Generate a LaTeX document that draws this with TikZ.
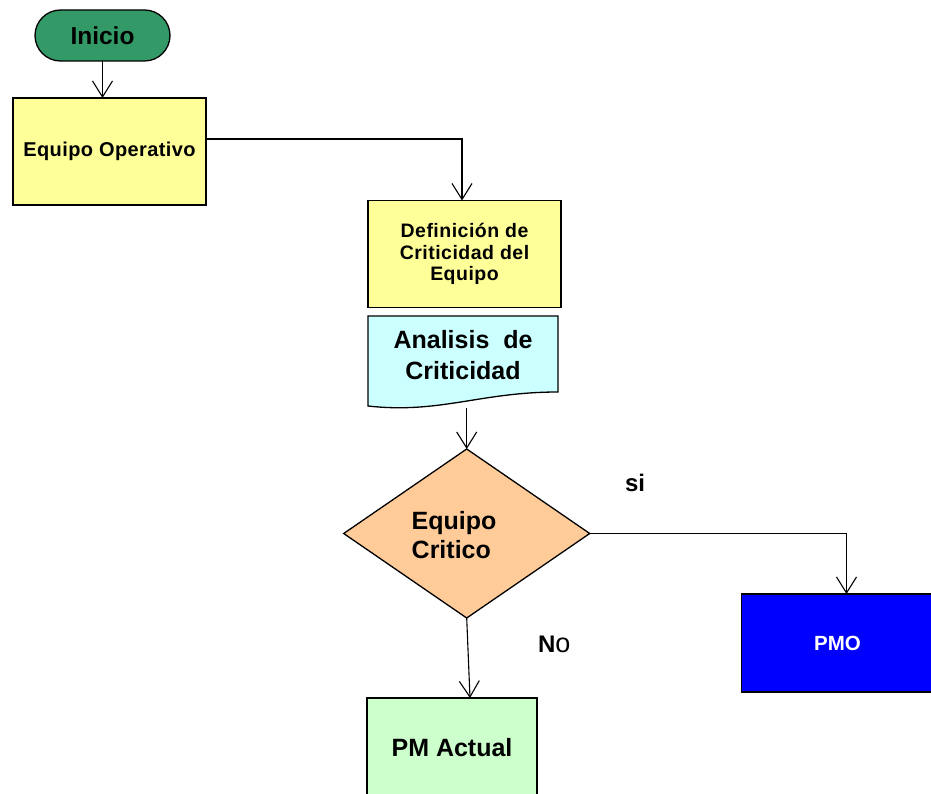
\documentclass[tikz,border=0pt]{standalone}
\usepackage{fontspec}
\setmainfont{Liberation Sans}
\usetikzlibrary{arrows.meta,shapes.geometric,calc}
\definecolor{cInicio}{RGB}{51,153,102}
\definecolor{cYellow}{RGB}{255,255,153}
\definecolor{cCyan}{RGB}{204,255,255}
\definecolor{cPeach}{RGB}{255,204,153}
\definecolor{cBlue}{RGB}{0,0,255}
\definecolor{cLGreen}{RGB}{204,255,204}
\begin{document}
\begin{tikzpicture}[x=1pt,y=-1pt,
  box/.style={draw=black, line width=1.3pt, rectangle, inner sep=0pt, outer sep=0pt, align=center, font=\bfseries},
  arr/.style={draw=black, line width=1.1pt, -{Straight Barb[length=16pt,width=20pt,line width=1.1pt]}},
  conn/.style={draw=black, line width=1.1pt},
  lbl/.style={inner sep=0pt, outer sep=0pt, font=\bfseries}]
\useasboundingbox (0,0) rectangle (931,794);

% Inicio
\node[box, fill=cInicio, rounded corners=25.5pt, minimum width=135pt, minimum height=51pt,
  font=\bfseries\fontsize{24.5}{29}\selectfont] (inicio) at (102.5,35.5) {Inicio};

% Equipo Operativo
\node[box, fill=cYellow, minimum width=193pt, minimum height=107pt,
  font=\bfseries\fontsize{20}{23}\selectfont\addfontfeature{LetterSpace=2}] (eo) at (109.5,151.5) {Equipo\ Operativo};

% Definicion
\node[box, fill=cYellow, minimum width=193pt, minimum height=107pt,
  font=\bfseries\fontsize{19.5}{21.5}\selectfont\addfontfeature{LetterSpace=2.5}] (def) at (464.5,254) {Definición de\\Criticidad del\\Equipo};

% Analisis (document shape)
\draw[fill=cCyan, line width=1.3pt] (368,316) -- (558,316) -- (558,392)
  .. controls (480,392) and (440,414) .. (368,406) -- cycle;
\node[inner sep=0pt, outer sep=0pt, minimum width=190pt, minimum height=92pt] (ana) at (463,362) {};
\node[lbl, align=center, font=\bfseries\fontsize{25}{31}\selectfont] (anat) at (463,355) {Analisis\ \ de\\Criticidad};

% Decision
\node[diamond, draw=black, line width=1.3pt, fill=cPeach, inner sep=0pt, outer sep=0pt,
  minimum width=246pt, minimum height=169pt] (dec) at (466.7,533.5) {};
\node[lbl, anchor=west, align=left, font=\bfseries\fontsize{25}{29}\selectfont] (dect) at (411.7,535) {Equipo\\Critico};

% PMO
\node[box, fill=cBlue, text=white, minimum width=192pt, minimum height=98pt,
  font=\bfseries\fontsize{20.5}{24}\selectfont] (pmo) at (837.5,643) {PMO};

% PM Actual
\node[box, fill=cLGreen, minimum width=170pt, minimum height=100pt,
  font=\bfseries\fontsize{25}{30}\selectfont] (pma) at (452,748) {PM Actual};

% labels
\node[lbl, anchor=base, font=\bfseries\fontsize{24}{28}\selectfont] (si) at (635,491.7) {si};
\node[lbl, anchor=base west, font=\fontsize{24}{28}\selectfont] (no) at (538,652.7) {\textbf{N}{\fontsize{27}{30}\selectfont o}};

% connectors
\draw[arr] (inicio.south) -- (inicio.south |- eo.north);
\draw[arr] ([yshift=12.5pt]eo.east) -| ([xshift=-2.5pt]def.north);
\draw[arr] (dec.north |- ana.south) -- (dec.north);
\draw[arr] (dec.east) -| ([xshift=9pt]pmo.north);
\draw[arr] (dec.south) -- ([xshift=18pt]pma.north);
\end{tikzpicture}
\end{document}
